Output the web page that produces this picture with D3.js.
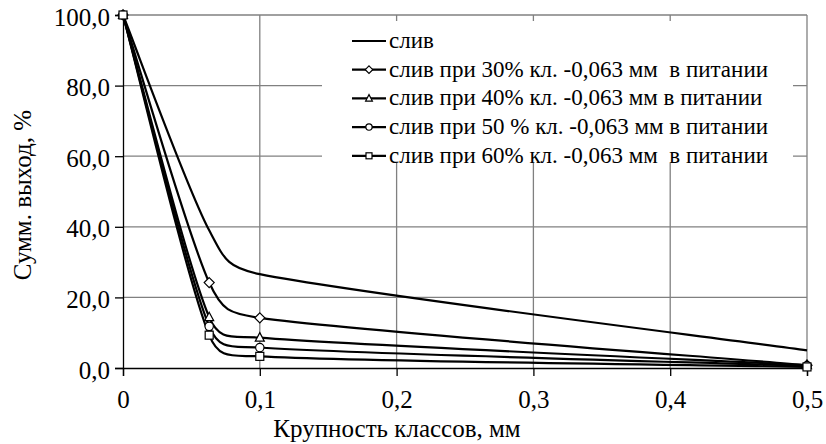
<!DOCTYPE html>
<html>
<head>
<meta charset="utf-8">
<script src="https://cdn.jsdelivr.net/npm/d3@7"></script>
<style>
  body { margin: 0; background: #fff; }
</style>
</head>
<body>
<div id="chart"></div>
<script>
// sizes, mm
var sizes = [0, 0.063, 0.1, 0.5];

// cumulative yield, %
var sliv = [100, 39, 26.6, 5.0];
var sliv30 = [100, 24.2, 14.2, 0.8];
var sliv40 = [100, 14.4, 8.6, 0.8];
var sliv50 = [100, 11.8, 5.8, 0.6];
var sliv60 = [100, 9.3, 3.3, 0.3];

var seriesNames = [
    'слив',
    'слив при 30% кл. -0,063 мм  в питании',
    'слив при 40% кл. -0,063 мм в питании',
    'слив при 50 % кл. -0,063 мм в питании',
    'слив при 60% кл. -0,063 мм  в питании'
];
var seriesMarkers = ['none', 'diamond', 'triangle', 'circle', 'square'];

var xTicks = [0, 0.1, 0.2, 0.3, 0.4, 0.5];
var yTicks = [0, 20, 40, 60, 80, 100];

var FONT = "'Liberation Serif', 'Times New Roman', Times, 'DejaVu Serif', serif";

var width = 826, height = 444;
var margin = { top: 15, right: 19, bottom: 76, left: 123 };

var svg = d3.select('#chart').append('svg')
    .attr('width', width)
    .attr('height', height);

var x = d3.scaleLinear().domain([0, 0.5]).range([margin.left, width - margin.right]);
var y = d3.scaleLinear().domain([0, 100]).range([height - margin.bottom, margin.top]);

var fmtX = function(d) { return d === 0 ? '0' : d3.format('.1f')(d).replace('.', ','); };
var fmtY = function(d) { return d3.format('.1f')(d).replace('.', ','); };

// grid
svg.append('g')
    .selectAll('line')
    .data(yTicks.filter(d => d > 0))
    .enter().append('line')
    .attr('x1', x(0)).attr('x2', x(0.5))
    .attr('y1', d => y(d)).attr('y2', d => y(d))
    .attr('stroke', '#808080').attr('stroke-width', 1.3);

svg.append('g')
    .selectAll('line')
    .data(xTicks.filter(d => d > 0))
    .enter().append('line')
    .attr('x1', d => x(d)).attr('x2', d => x(d))
    .attr('y1', y(100)).attr('y2', y(0))
    .attr('stroke', '#808080').attr('stroke-width', 1.3);

// axes
var xAxis = d3.axisBottom(x).tickValues(xTicks).tickFormat(fmtX).tickSize(8).tickPadding(14);
var yAxis = d3.axisLeft(y).tickValues(yTicks).tickFormat(fmtY).tickSize(8).tickPadding(5);

var gx = svg.append('g').attr('transform', 'translate(0,' + y(0) + ')').call(xAxis);
var gy = svg.append('g').attr('transform', 'translate(' + x(0) + ',0)').call(yAxis);
[gx, gy].forEach(function(g) {
    g.attr('font-family', FONT).attr('font-size', 25);
    g.select('.domain').attr('stroke', '#000').attr('stroke-width', 1.3);
    g.selectAll('.tick line').attr('stroke', '#000').attr('stroke-width', 1.3);
    g.selectAll('.tick text').style('font-family', FONT).attr('fill', '#000');
});
gy.selectAll('.tick text').attr('dy', '0.4em');

// axis titles
svg.append('text')
    .attr('x', 397).attr('y', 437)
    .attr('text-anchor', 'middle')
    .style('font-family', FONT)
    .style('font-size', '25px')
    .text('Крупность классов, мм');

svg.append('text')
    .attr('transform', 'translate(31,195) rotate(-90)')
    .attr('text-anchor', 'middle')
    .style('font-family', FONT)
    .style('font-size', '25px')
    .text('Сумм. выход, %');

// Excel-like smoothed line: bezier with control points limited to half a segment
function smoothPath(pts) {
    var p = d3.path();
    p.moveTo(pts[0][0], pts[0][1]);
    var dist = (a, b) => Math.hypot(b[0] - a[0], b[1] - a[1]);
    for (var i = 0; i < pts.length - 1; i++) {
        var p0 = pts[Math.max(i - 1, 0)], p1 = pts[i], p2 = pts[i + 1], p3 = pts[Math.min(i + 2, pts.length - 1)];
        var d12 = dist(p1, p2), d02 = dist(p0, p2), d13 = dist(p1, p3);
        var f1 = d02 / 6 < d12 / 2 ? 1 / 6 : d12 / 2 / d02;
        var f2 = d13 / 6 < d12 / 2 ? 1 / 6 : d12 / 2 / d13;
        p.bezierCurveTo(
            p1[0] + f1 * (p2[0] - p0[0]), p1[1] + f1 * (p2[1] - p0[1]),
            p2[0] - f2 * (p3[0] - p1[0]), p2[1] - f2 * (p3[1] - p1[1]),
            p2[0], p2[1]);
    }
    return p.toString();
}

var allSeries = [sliv, sliv30, sliv40, sliv50, sliv60];

allSeries.forEach(function(vals) {
    var pts = sizes.map((v, i) => [x(v), y(vals[i])]);
    svg.append('path')
        .attr('d', smoothPath(pts))
        .attr('fill', 'none')
        .attr('stroke', '#000')
        .attr('stroke-width', 2.2);
});

function marker(g, type, cx, cy, sc) {
    var k = sc || 1;
    var m;
    if (type === 'diamond') {
        m = g.append('path').attr('d', 'M' + cx + ',' + (cy - 5 * k) + 'L' + (cx + 5 * k) + ',' + cy + 'L' + cx + ',' + (cy + 5 * k) + 'L' + (cx - 5 * k) + ',' + cy + 'Z');
    } else if (type === 'triangle') {
        m = g.append('path').attr('d', 'M' + cx + ',' + (cy - 5 * k) + 'L' + (cx + 4.5 * k) + ',' + (cy + 3.5 * k) + 'L' + (cx - 4.5 * k) + ',' + (cy + 3.5 * k) + 'Z');
    } else if (type === 'circle') {
        m = g.append('circle').attr('cx', cx).attr('cy', cy).attr('r', 4.2 * k);
    } else if (type === 'square') {
        m = g.append('rect').attr('x', cx - 4 * k).attr('y', cy - 4 * k).attr('width', 8 * k).attr('height', 8 * k);
    } else {
        return;
    }
    m.attr('fill', '#fff').attr('stroke', '#000').attr('stroke-width', 1.2);
}

var mg = svg.append('g');
allSeries.forEach(function(vals, si) {
    sizes.forEach(function(v, i) {
        marker(mg, seriesMarkers[si], x(v), y(vals[i]));
    });
});

// legend
var lg = svg.append('g');
lg.append('rect')
    .attr('x', 322).attr('y', 21).attr('width', 471).attr('height', 142)
    .attr('fill', '#fff');

seriesNames.forEach(function(name, i) {
    var ly = 41 + i * 28.7;
    lg.append('line')
        .attr('x1', 352).attr('x2', 386)
        .attr('y1', ly).attr('y2', ly)
        .attr('stroke', '#000').attr('stroke-width', 2.2);
    marker(lg, seriesMarkers[i], 369, ly, 0.75);
    lg.append('text')
        .attr('x', 389).attr('y', ly + 7)
        .style('font-family', FONT)
        .style('font-size', '23px')
        .style('white-space', 'pre')
        .text(name);
});
</script>
</body>
</html>
